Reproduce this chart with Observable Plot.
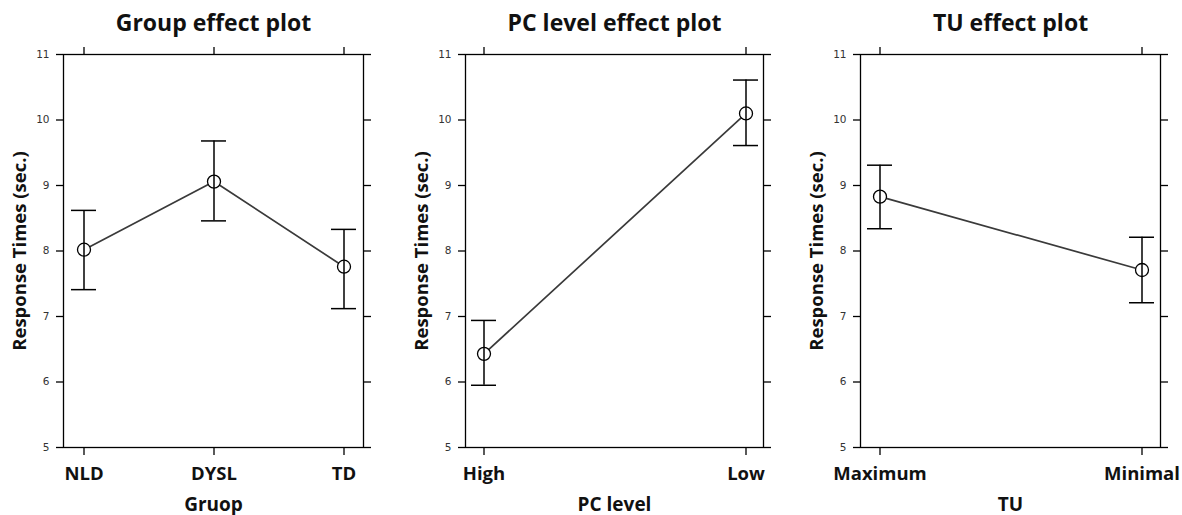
<!DOCTYPE html>
<html>
<head>
<meta charset="utf-8">
<script src="https://cdn.jsdelivr.net/npm/d3@7"></script>
<script src="https://cdn.jsdelivr.net/npm/@observablehq/plot@0.6"></script>
<style>
  html, body { margin: 0; padding: 0; background: #fff; }
  #wrap { position: relative; width: 1182px; height: 515px; overflow: hidden; }
  .panel { position: absolute; top: 0; }
  .panel svg { display: block; }
  .ep g[aria-label="y-axis tick label"] { font-family: "DejaVu Sans", sans-serif; font-size: 10.5px; fill: #333; }
  .ep g[aria-label="x-axis tick label"] { font-family: "Open Sans", sans-serif; font-size: 18.5px; font-weight: bold; fill: #111; }
  .ep g[aria-label="y-axis label"] { font-family: "Open Sans", sans-serif; font-size: 18.5px; font-weight: bold; fill: #111; }
  .ep g[aria-label="x-axis label"] { font-family: "Open Sans", sans-serif; font-size: 19px; font-weight: bold; fill: #111; }
</style>
</head>
<body>
<div id="wrap"></div>
<script>
// ---- data ----
const yTicks = [5, 6, 7, 8, 9, 10, 11];
const yLabel = "Response Times (sec.)";

const groupCats = ["NLD", "DYSL", "TD"];
const groupFit = [8.02, 9.06, 7.76];
const groupLower = [7.41, 8.46, 7.12];
const groupUpper = [8.62, 9.68, 8.33];

const pcCats = ["High", "Low"];
const pcFit = [6.43, 10.10];
const pcLower = [5.95, 9.61];
const pcUpper = [6.94, 10.61];

const tuCats = ["Maximum", "Minimal"];
const tuFit = [8.83, 7.71];
const tuLower = [8.34, 7.21];
const tuUpper = [9.31, 8.21];

const titles = ["Group effect plot", "PC level effect plot", "TU effect plot"];
const xNames = ["Gruop", "PC level", "TU"];

// ---- build ----
function rows(cats, fit, lo, hi) {
  return cats.map((c, i) => ({cat: c, fit: fit[i], lo: lo[i], hi: hi[i]}));
}

const panels = [
  {left: 0, ml: 63, mr: 31, pi: 0.809, po: 0.05, data: rows(groupCats, groupFit, groupLower, groupUpper), cats: groupCats},
  {left: 394, ml: 71, mr: 25, pi: 0.905, po: 0.02, data: rows(pcCats, pcFit, pcLower, pcUpper), cats: pcCats},
  {left: 788, ml: 72, mr: 22, pi: 0.905, po: 0.025, data: rows(tuCats, tuFit, tuLower, tuUpper), cats: tuCats}
];

const wrap = document.getElementById("wrap");
panels.forEach((p, k) => {
  const chart = Plot.plot({
    width: 394,
    height: 515,
    marginTop: 54,
    marginBottom: 68,
    marginLeft: p.ml,
    marginRight: p.mr,
    className: "ep",
    style: {background: "white", color: "black"},
    x: {type: "band", domain: p.cats, paddingInner: p.pi, paddingOuter: p.po},
    y: {domain: [5, 11]},
    marks: [
      Plot.frame({stroke: "black", strokeWidth: 1.3}),
      Plot.axisY({anchor: "left", ticks: yTicks, tickSize: 7, tickPadding: 7, strokeWidth: 1.3,
                  tickFormat: d => String(d),
                  label: yLabel, labelArrow: "none", labelAnchor: "center", labelOffset: 51}),
      Plot.axisY({anchor: "right", ticks: yTicks, tickSize: 7, strokeWidth: 1.3, tickFormat: () => "", label: null}),
      Plot.axisX({anchor: "top", tickSize: 8, strokeWidth: 1.3, tickFormat: () => "", label: null}),
      Plot.axisX({anchor: "bottom", tickSize: 8, tickPadding: 11, strokeWidth: 1.3,
                  label: xNames[k], labelArrow: "none", labelAnchor: "center", labelOffset: 63}),
      Plot.line(p.data, {x: "cat", y: "fit", stroke: "#3a3a3a", strokeWidth: 1.7}),
      Plot.dot(p.data, {x: "cat", y: "fit", r: 6.5, stroke: "black", strokeWidth: 1.3, fill: "white"}),
      Plot.ruleX(p.data, {x: "cat", y1: "lo", y2: "hi", stroke: "black", strokeWidth: 1.5}),
      Plot.tickY(p.data, {x: "cat", y: "lo", stroke: "black", strokeWidth: 1.5}),
      Plot.tickY(p.data, {x: "cat", y: "hi", stroke: "black", strokeWidth: 1.5}),
      Plot.text([titles[k]], {frameAnchor: "top", dy: -24, lineAnchor: "bottom",
                  fontSize: 23, fontWeight: "bold", fontFamily: "Open Sans", fill: "#111"})
    ]
  });
  const div = document.createElement("div");
  div.className = "panel";
  div.style.left = p.left + "px";
  div.appendChild(chart);
  wrap.appendChild(div);
});
</script>
</body>
</html>
